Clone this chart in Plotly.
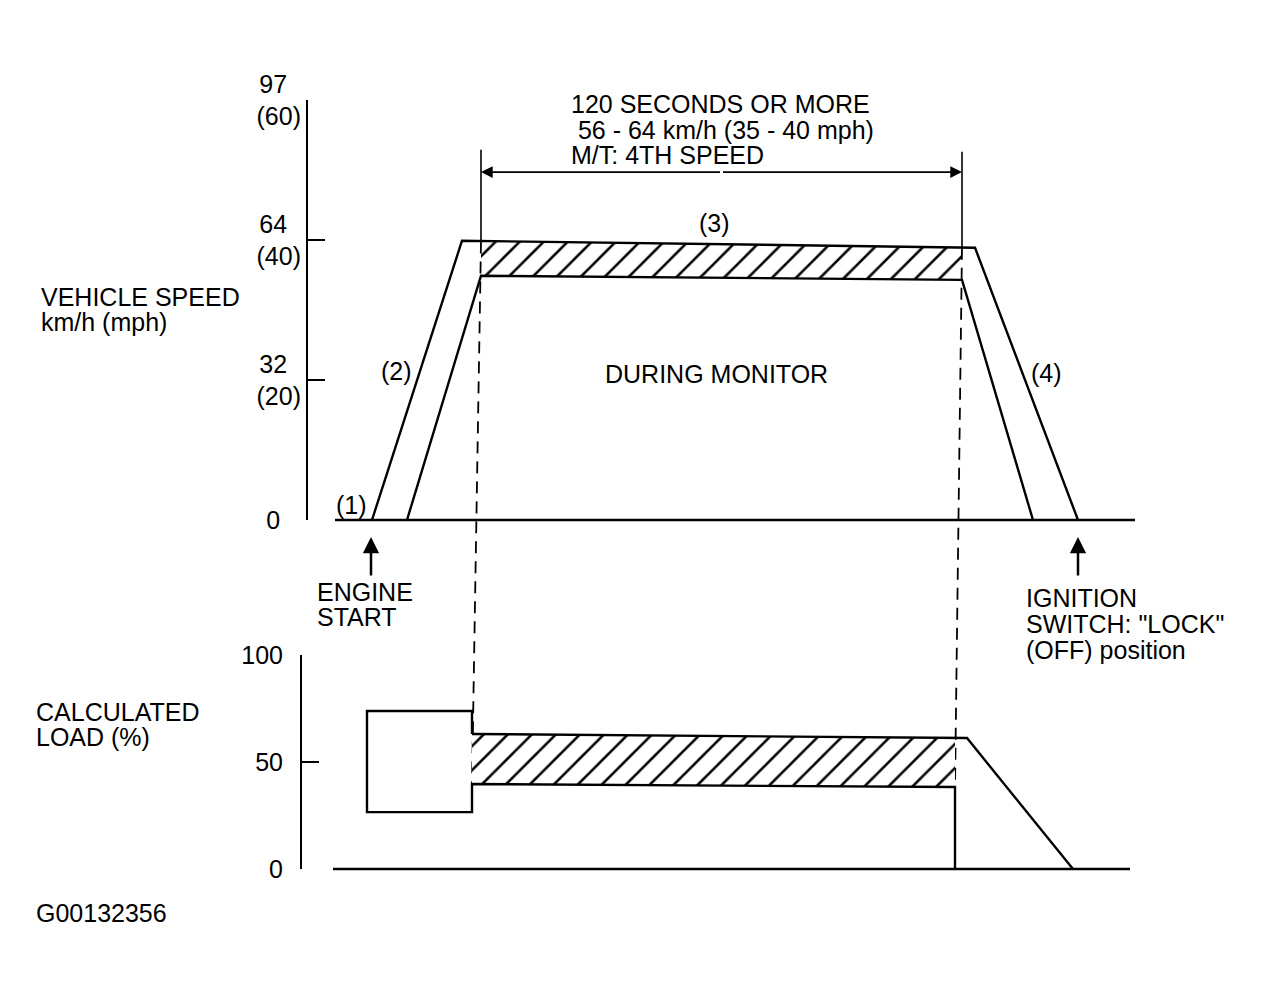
import plotly.graph_objects as go

W, H = 1261, 996
OFF = 8  # page body margin of the html page

# ---------------- data ----------------
speed_ticks = [0, 20, 40, 60]                       # mph
speed_ticktext = ["0\u00a0\u00a0\u00a0", "32\u00a0\u00a0<br>(20)", "64\u00a0\u00a0<br>(40)", "97\u00a0\u00a0<br>(60)"]
load_ticks = [0, 50, 100]                           # %
load_ticktext = ["0", "50", "100"]

outer_t = [372, 462, 975, 1078]                     # upper limit of vehicle speed
outer_mph = [0, 39.9, 38.9, 0]
inner_t = [407, 481, 962, 1033]                     # lower limit of vehicle speed
inner_mph = [0, 34.9, 34.3, 0]
monitor_t = [481, 962]                              # monitoring window (120 s or more)
monitor_top_mph = [39.8, 38.9]
monitor_bot_mph = [34.9, 34.3]
speed_base_t = [335, 1135]
dim_mph = 49.7                                      # dimension arrow level
ext_top_mph = [52.9, 52.6]                          # extension line tops

idle_t = [367, 472]                                 # idle load box
idle_load = [26.6, 73.8]
band_t = [472, 955]                                 # load band during monitor
band_top = [63.1, 61.3]
band_bot = [39.7, 38.3]
decel_t = [967, 1073]                               # load during deceleration
decel_load = [61.2, 0]
load_base_t = [333, 1130]
engine_start_t = 371
ignition_off_t = 1078

# ---------------- layout helpers ----------------
sp_dom = [1 - (520 - OFF) / H, 1 - (100 - OFF) / H]
ld_dom = [1 - (869 - OFF) / H, 1 - (655 - OFF) / H]


def full_range(dom, lo, hi):
    span = (hi - lo) / (dom[1] - dom[0])
    return [lo - dom[0] * span, hi + (1 - dom[1]) * span]


s_rng = full_range(sp_dom, 0, 60)
l_rng = full_range(ld_dom, 0, 100)


def load_to_mph(v):
    p = (v - l_rng[0]) / (l_rng[1] - l_rng[0])
    return s_rng[0] + p * (s_rng[1] - s_rng[0])


LW = 2.4
BLACK = "black"
FONT = "Liberation Sans, Arial, sans-serif"
HATCH = dict(shape="/", size=17, solidity=0.15, fgcolor=BLACK, bgcolor="white")

fig = go.Figure()

fig.add_trace(go.Scatter(x=[None], y=[None], xaxis="x", yaxis="y", hoverinfo="skip"))
fig.add_trace(go.Scatter(x=[None], y=[None], xaxis="x", yaxis="y2", hoverinfo="skip"))

# ---- speed chart (y3) ----
fig.add_trace(go.Scatter(
    x=monitor_t + monitor_t[::-1], y=monitor_top_mph + monitor_bot_mph[::-1],
    xaxis="x", yaxis="y3", mode="lines", fill="toself", line=dict(width=0),
    fillcolor="white", fillpattern=HATCH, hoverinfo="skip"))
fig.add_trace(go.Scatter(x=speed_base_t, y=[0, 0], xaxis="x", yaxis="y3", mode="lines",
                         line=dict(color=BLACK, width=LW), hoverinfo="skip"))
fig.add_trace(go.Scatter(x=outer_t, y=outer_mph, xaxis="x", yaxis="y3", mode="lines",
                         line=dict(color=BLACK, width=LW), hoverinfo="skip"))
fig.add_trace(go.Scatter(x=inner_t, y=inner_mph, xaxis="x", yaxis="y3", mode="lines",
                         line=dict(color=BLACK, width=LW), hoverinfo="skip"))
for t, top, bot in zip(monitor_t, ext_top_mph, monitor_top_mph):
    fig.add_trace(go.Scatter(x=[t, t], y=[top, bot], xaxis="x", yaxis="y3", mode="lines",
                             line=dict(color=BLACK, width=1.6), hoverinfo="skip"))
for t0, y0, t1, y1 in zip(monitor_t, monitor_top_mph, band_t, band_bot):
    fig.add_trace(go.Scatter(x=[t0, t1], y=[y0, load_to_mph(y1)], xaxis="x", yaxis="y3",
                             mode="lines", line=dict(color=BLACK, width=1.8, dash="12px,8px"),
                             hoverinfo="skip"))

# ---- load chart (y4) ----
fig.add_trace(go.Scatter(
    x=band_t + band_t[::-1], y=band_top + band_bot[::-1],
    xaxis="x", yaxis="y4", mode="lines", fill="toself", line=dict(width=0),
    fillcolor="white", fillpattern=HATCH, hoverinfo="skip"))
fig.add_trace(go.Scatter(x=load_base_t, y=[0, 0], xaxis="x", yaxis="y4", mode="lines",
                         line=dict(color=BLACK, width=LW), hoverinfo="skip"))
fig.add_trace(go.Scatter(
    x=[idle_t[1], idle_t[1], idle_t[0], idle_t[0], idle_t[1], idle_t[1], band_t[1], band_t[1]],
    y=[band_top[0], idle_load[1], idle_load[1], idle_load[0], idle_load[0], band_bot[0], band_bot[1], 0],
    xaxis="x", yaxis="y4", mode="lines", line=dict(color=BLACK, width=LW), hoverinfo="skip"))
fig.add_trace(go.Scatter(
    x=[band_t[0], decel_t[0], decel_t[1]],
    y=[band_top[0], decel_load[0], decel_load[1]],
    xaxis="x", yaxis="y4", mode="lines", line=dict(color=BLACK, width=LW), hoverinfo="skip"))

# ---------------- annotations ----------------
ann = []


def P(xp, yp):
    return (xp - OFF) / W, 1 - (yp - OFF) / H


def text(s, xp, yp, anchor="left"):
    x, y = P(xp, yp)
    ann.append(dict(text=s, x=x, y=y, xref="paper", yref="paper", xanchor=anchor,
                    yanchor="middle", showarrow=False, borderpad=0, borderwidth=0,
                    font=dict(family=FONT, size=25, color=BLACK)))


text("120 SECONDS OR MORE", 571, 104)
text("\u00a056 - 64 km/h (35 - 40 mph)", 571, 130)
text("M/T: 4TH SPEED", 571, 155)
text("(3)", 714, 223, "center")
text("(1)", 352, 505, "center")
text("(2)", 396, 371, "center")
text("(4)", 1046, 373, "center")
text("DURING MONITOR", 716, 374, "center")
text("VEHICLE SPEED", 41, 297)
text("km/h (mph)", 41, 322)
text("ENGINE", 317, 592)
text("START", 317, 617)
text("IGNITION", 1026, 598)
text("SWITCH: \"LOCK\"", 1026, 624)
text("(OFF) position", 1026, 650)
text("CALCULATED", 36, 712)
text("LOAD (%)", 36, 737)
text("G00132356", 36, 913)

mid = (monitor_t[0] + monitor_t[1]) / 2
for t in monitor_t:
    ann.append(dict(x=t, y=dim_mph, xref="x", yref="y3", ax=mid, ay=dim_mph, axref="x", ayref="y3",
                    showarrow=True, arrowhead=2, arrowsize=1.3, arrowwidth=1.8, arrowcolor=BLACK,
                    standoff=0, text=""))
for t in [engine_start_t, ignition_off_t]:
    ann.append(dict(x=t, y=0, xref="x", yref="y3", ax=0, ay=40, yshift=-17,
                    showarrow=True, arrowhead=2, arrowsize=1.3, arrowwidth=2.5, arrowcolor=BLACK,
                    standoff=0, text=""))

axis_common = dict(showline=True, linecolor=BLACK, linewidth=2, ticks="inside", ticklen=17,
                   tickwidth=2, tickcolor=BLACK, showgrid=False, zeroline=False, automargin=False,
                   tickfont=dict(family=FONT, size=25, color=BLACK), tickmode="array")

fig.update_layout(
    template="none",
    width=W, height=H, margin=dict(l=0, r=0, t=0, b=0, pad=0, autoexpand=False),
    paper_bgcolor="white", plot_bgcolor="rgba(0,0,0,0)", showlegend=False,
    xaxis=dict(domain=[0, 1], range=[OFF, W + OFF], visible=False, anchor="y3", fixedrange=True,
               automargin=False),
    yaxis=dict(domain=sp_dom, range=[0, 60], anchor="free", position=(307 - OFF) / W,
               tickvals=speed_ticks, ticktext=speed_ticktext, ticklabelstandoff=0, **axis_common),
    yaxis2=dict(domain=ld_dom, range=[0, 100], anchor="free", position=(301 - OFF) / W,
                tickvals=load_ticks, ticktext=load_ticktext, ticklabelstandoff=12, **axis_common),
    yaxis3=dict(domain=[0, 1], range=s_rng, anchor="x", visible=False, fixedrange=True, automargin=False),
    yaxis4=dict(domain=[0, 1], range=l_rng, anchor="x", overlaying="y3", visible=False,
                fixedrange=True, automargin=False),
    annotations=ann,
)

fig.write_html("out.html")
